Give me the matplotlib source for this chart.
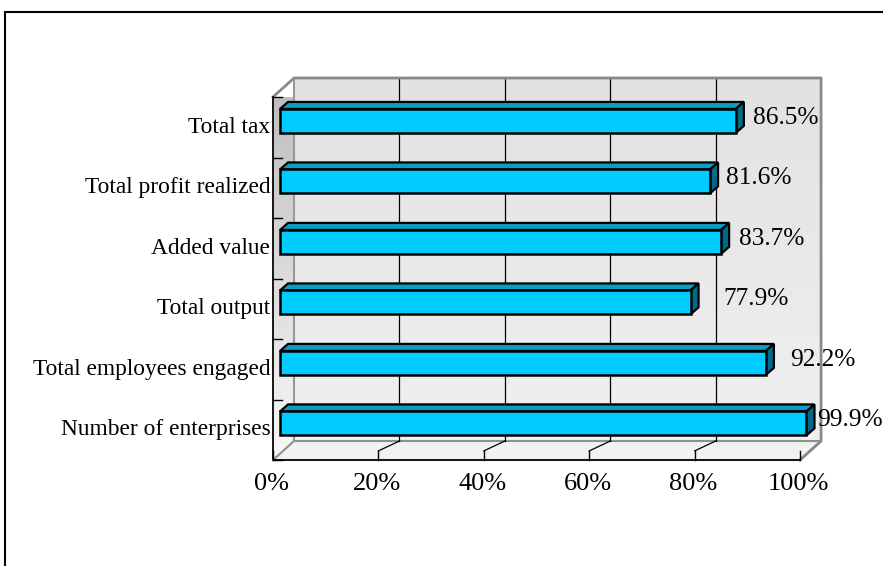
import matplotlib
matplotlib.use('Agg')
import matplotlib.pyplot as plt
from matplotlib.patches import Polygon, Rectangle
from matplotlib.colors import LinearSegmentedColormap
import numpy as np

plt.rcParams['font.family'] = ['Liberation Serif', 'DejaVu Serif']

# 데이터
categories = ['Number of enterprises', 'Total employees engaged', 'Total output',
              'Added value', 'Total profit realized', 'Total tax']
values = [99.9, 92.2, 77.9, 83.7, 81.6, 86.5]
value_labels = ['99.9%', '92.2%', '77.9%', '83.7%', '81.6%', '86.5%']
x_ticks = [0, 20, 40, 60, 80, 100]
x_tick_labels = ['0%', '20%', '40%', '60%', '80%', '100%']

# 라벨 위치 보정 (막대 끝에서의 간격, %)
label_gap = [0.5, 3.1, 4.8, 1.8, 1.6, 1.8]

W, H = 883, 566
fig = plt.figure(figsize=(W / 100, H / 100), dpi=100)

# 테두리
fig.add_artist(Rectangle((5 / W, -0.1), 1.2, 1 - 12 / H + 0.1, transform=fig.transFigure,
                         fill=False, edgecolor='black', linewidth=1.5))

ax = fig.add_axes([273 / W, (H - 460) / H, 527 / W, 363 / H])
ax.set_xlim(0, 100)
ax.set_ylim(-0.5, 5.5)
ax.axis('off')

# 3D 깊이 (벽, 막대)
dx, dy = 4.0, 0.314
y0, y1 = -0.5, 5.5
grad = np.linspace(0, 1, 100).reshape(-1, 1)

# 뒷벽 (그라데이션)
ax.imshow(grad, cmap=LinearSegmentedColormap.from_list('back', ['#f0f0f0', '#e2e2e2']),
          extent=(dx, 100 + dx, y0 + dy, y1 + dy), origin='lower', aspect='auto', zorder=0,
          clip_on=False)

# 옆벽 (그라데이션)
side = Polygon([(0, y0), (dx, y0 + dy), (dx, y1 + dy), (0, y1)], closed=True,
               facecolor='none', edgecolor='#8a8a8a', linewidth=1, zorder=1, clip_on=False)
ax.add_patch(side)
im = ax.imshow(grad, cmap=LinearSegmentedColormap.from_list('side', ['#f8f8f8', '#bcbcbc']),
               extent=(0, dx, y0, y1 + dy), origin='lower', aspect='auto', zorder=0.5)
im.set_clip_path(side)

# 바닥
ax.add_patch(Polygon([(0, y0), (100, y0), (100 + dx, y0 + dy), (dx, y0 + dy)], closed=True,
                     facecolor='#f2f2f2', edgecolor='#909090', linewidth=1.5, zorder=1, clip_on=False))

# 격자선
for t in x_ticks[1:-1]:
    ax.plot([t + dx, t + dx], [y0 + dy, y1 + dy], color='black', lw=0.9, zorder=2, clip_on=False)
    ax.plot([t, t + dx], [y0 + 0.15, y0 + dy], color='black', lw=0.9, zorder=2, clip_on=False)

# 뒷벽 외곽선
ax.plot([dx, dx], [y0 + dy, y1 + dy], color='#999999', lw=1.5, zorder=2, clip_on=False)
ax.plot([0, dx, 100 + dx, 100 + dx, 100], [y1, y1 + dy, y1 + dy, y0 + dy, y0],
        color='#8a8a8a', lw=2, zorder=3, clip_on=False)

# 축선과 눈금
ax.plot([0, 0, 100], [y1, y0, y0], color='black', lw=1.2, zorder=6, clip_on=False)
for k in range(7):
    ax.plot([0, 1.7], [y0 + k, y0 + k], color='black', lw=1, zorder=6, clip_on=False)
for t in x_ticks:
    ax.plot([t, t], [y0, y0 + 0.15], color='black', lw=1, zorder=6, clip_on=False)

# 막대
bx, by = 1.33, 0.105
tx, ty = 1.52, 0.116
bh = 0.395
for i, v in enumerate(values):
    left = bx
    right = bx + v
    yc = i + by
    bot, top = yc - bh / 2, yc + bh / 2
    ax.add_patch(Polygon([(left, top), (right, top), (right + tx, top + ty), (left + tx, top + ty)],
                         closed=True, facecolor='#0d9cc6', edgecolor='black', lw=1.6, zorder=4,
                         clip_on=False))
    ax.add_patch(Polygon([(right, bot), (right + tx, bot + ty), (right + tx, top + ty), (right, top)],
                         closed=True, facecolor='#006b88', edgecolor='black', lw=1.6, zorder=4,
                         clip_on=False))
    ax.add_patch(Rectangle((left, bot), v, bh, facecolor='#00ccff', edgecolor='black', lw=1.8,
                           zorder=5, clip_on=False))
    ax.text(right + tx + label_gap[i], yc + 0.05, value_labels[i], ha='left', va='center',
            fontsize=18.3, zorder=7, clip_on=False)

# 분류 라벨
for i, c in enumerate(categories):
    ax.text(-0.5, i, c, ha='right', va='center', fontsize=16.8, clip_on=False)

# x축 라벨
for t, lab in zip(x_ticks, x_tick_labels):
    ax.text(t - 0.3, y0 - 0.22, lab, ha='center', va='top', fontsize=19, clip_on=False)

plt.savefig('out.png', dpi=100)
